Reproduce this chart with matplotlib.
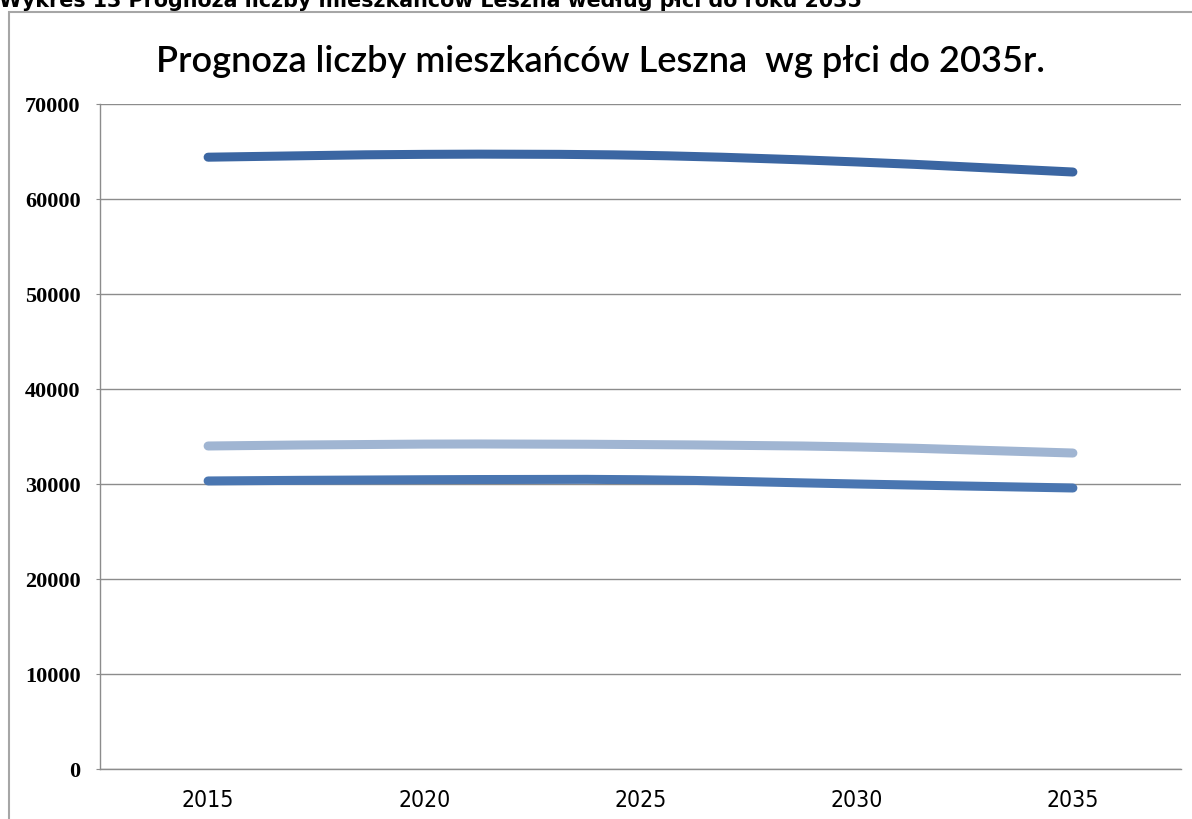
import matplotlib
matplotlib.use("Agg")
import matplotlib.pyplot as plt
from matplotlib.path import Path
from matplotlib.patches import PathPatch, Rectangle
import numpy as np

# dane
lata = ["2015", "2020", "2025", "2030", "2035"]
ogolem = [64400, 64700, 64600, 63900, 62840]
kobiety = [34000, 34200, 34150, 33900, 33260]
mezczyzni = [30320, 30450, 30450, 30000, 29580]

W, H = 1192, 820
fig = plt.figure(figsize=(W / 100, H / 100), dpi=100)

# ramka wokol wykresu (jak w Excelu)
fig.patches.append(Rectangle((9 / W, -0.1), 1.2, (H - 13) / H + 0.1,
                             transform=fig.transFigure, fill=False,
                             edgecolor="#a6a6a6", linewidth=1.5))

# naglowek ucięty u gory, tak jak w oryginale
fig.text(-1 / W, 1 - 7 / H,
         "Wykres 13 Prognoza liczby mieszkańców Leszna według płci do roku 2035",
         fontsize=14.9, fontweight="bold", family="DejaVu Sans",
         ha="left", va="baseline")

fig.text(600 / W, 1 - 62 / H, "Prognoza liczby mieszkańców Leszna  wg płci do 2035r.",
         fontsize=26, fontweight="semibold", family="Lato", ha="center", va="center")

ax = fig.add_axes([100 / W, (H - 770) / H, 1081 / W, 665 / H])


def smooth_line(ax, y, color):
    # wygladzona linia w stylu Excela (krzywe Beziera przez punkty)
    x = np.arange(len(y), dtype=float)
    pts = np.column_stack([x, np.array(y, dtype=float)])
    verts = [pts[0]]
    codes = [Path.MOVETO]
    n = len(pts)
    for i in range(n - 1):
        p0 = pts[max(i - 1, 0)]
        p1 = pts[i]
        p2 = pts[i + 1]
        p3 = pts[min(i + 2, n - 1)]
        c1 = p1 + (p2 - p0) / 6.0
        c2 = p2 - (p3 - p1) / 6.0
        verts += [c1, c2, p2]
        codes += [Path.CURVE4] * 3
    patch = PathPatch(Path(verts, codes), facecolor="none", edgecolor=color,
                      linewidth=6.5, capstyle="round", joinstyle="round", zorder=3)
    ax.add_patch(patch)


smooth_line(ax, ogolem, "#3b66a2")
smooth_line(ax, kobiety, "#a0b5d2")
smooth_line(ax, mezczyzni, "#4a76b1")

ax.set_xlim(-0.5, len(lata) - 0.5)
ax.set_ylim(0, 70000)
ax.set_yticks(np.arange(0, 70001, 10000))
ax.set_xticks(range(len(lata)))
ax.set_xticklabels(lata)

ax.grid(axis="y", color="#8c8c8c", linewidth=1)
ax.set_axisbelow(True)
for s in ["top", "right"]:
    ax.spines[s].set_visible(False)
for s in ["left", "bottom"]:
    ax.spines[s].set_color("#8c8c8c")
    ax.spines[s].set_linewidth(1)

ax.tick_params(axis="y", length=3, color="#8c8c8c", pad=11)
ax.tick_params(axis="x", length=0, pad=14)
for lab in ax.get_yticklabels():
    lab.set_family("Liberation Serif")
    lab.set_fontsize(16)
    lab.set_fontweight("bold")
for lab in ax.get_xticklabels():
    lab.set_family(["Liberation Sans Narrow", "DejaVu Sans"])
    lab.set_fontstretch("condensed")
    lab.set_fontsize(16.5)

fig.savefig("out.png", dpi=100)
